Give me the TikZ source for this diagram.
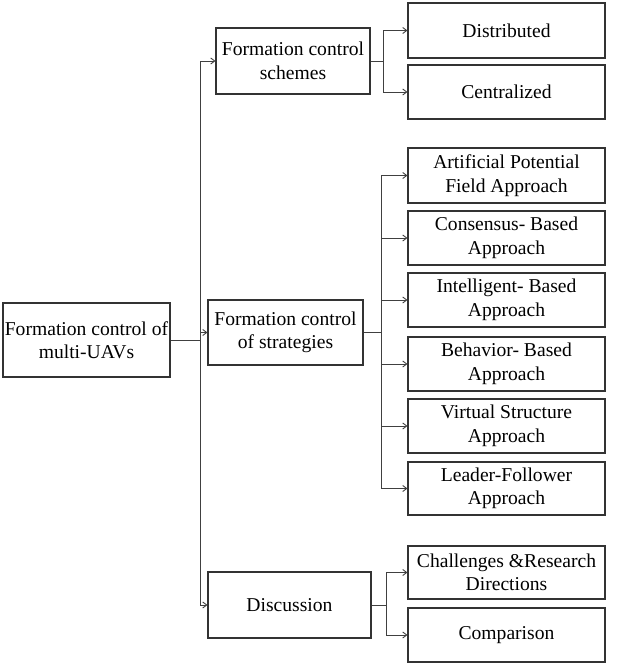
\documentclass[tikz,border=0pt]{standalone}
\usepackage{fontspec}
\setmainfont{Liberation Serif}
\usetikzlibrary{arrows.meta}

\begin{document}
\begin{tikzpicture}[x=1pt,y=1pt,yscale=-1,xscale=1,
  box/.style={draw=black!80,line width=1.1pt,inner sep=0pt,align=center,
    font=\fontsize{19.6}{23.5}\selectfont},
  leafbox/.style={box,minimum width=197pt,minimum height=54pt},
  conn/.style={draw=black!75,line width=0.9pt},
  arr/.style={conn,-{Straight Barb[length=4pt,width=6pt]}}]
\useasboundingbox (0,0) rectangle (617,664);

%Root
\node [box,minimum width=167pt,minimum height=74pt] (uav) at (86.5,340) {Formation control of\\multi-UAVs};

%Second level
\node [box,minimum width=154pt,minimum height=66pt] (schemes) at (293,61) {Formation control\\schemes};
\node [box,minimum width=155pt,minimum height=65pt] (strategies) at (285.5,332.5) {Formation control\\of strategies};
\node [box,minimum width=163pt,minimum height=66pt] (discussion) at (289.5,605) {Discussion};

%Schemes
\node [leafbox,minimum height=55pt] (distributed) at (506.5,30.5) {Distributed};
\node [leafbox] (centralized) at (506.5,92) {Centralized};

%Strategies
\node [leafbox,minimum height=55pt] (apf) at (506.5,175.5) {Artificial Potential\\Field Approach};
\node [leafbox] (consensus) at (506.5,238) {Consensus- Based\\Approach};
\node [leafbox] (intelligent) at (506.5,300) {Intelligent- Based\\Approach};
\node [leafbox] (behavior) at (506.5,364) {Behavior- Based\\Approach};
\node [leafbox] (virtual) at (506.5,426) {Virtual Structure\\Approach};
\node [leafbox,minimum height=53pt] (leader) at (506.5,488.5) {Leader-Follower\\Approach};

%Discussion
\node [leafbox,minimum height=53pt] (challenges) at (506.5,572.5) {Challenges \&Research\\Directions};
\node [leafbox] (comparison) at (506.5,635) {Comparison};

%Trunk
\coordinate (trunk) at (200,340);
\draw [conn] (uav.east) -- (trunk);
\draw [arr] (trunk) |- (schemes.west);
\draw [arr] (trunk) |- (strategies.west);
\draw [arr] (trunk) |- (discussion.west);

%Fork: schemes
\coordinate (schemesfork) at (383,61);
\draw [conn] (schemes.east) -- (schemesfork);
\draw [arr] (schemesfork) |- (distributed.west);
\draw [arr] (schemesfork) |- (centralized.west);

%Fork: strategies
\coordinate (strategiesfork) at (381,332.5);
\draw [conn] (strategies.east) -- (strategiesfork);
\foreach \leaf in {apf,consensus,intelligent,behavior,virtual,leader}
  \draw [arr] (strategiesfork) |- (\leaf.west);

%Fork: discussion
\coordinate (discussionfork) at (386,605);
\draw [conn] (discussion.east) -- (discussionfork);
\draw [arr] (discussionfork) |- (challenges.west);
\draw [arr] (discussionfork) |- (comparison.west);

\end{tikzpicture}
\end{document}
